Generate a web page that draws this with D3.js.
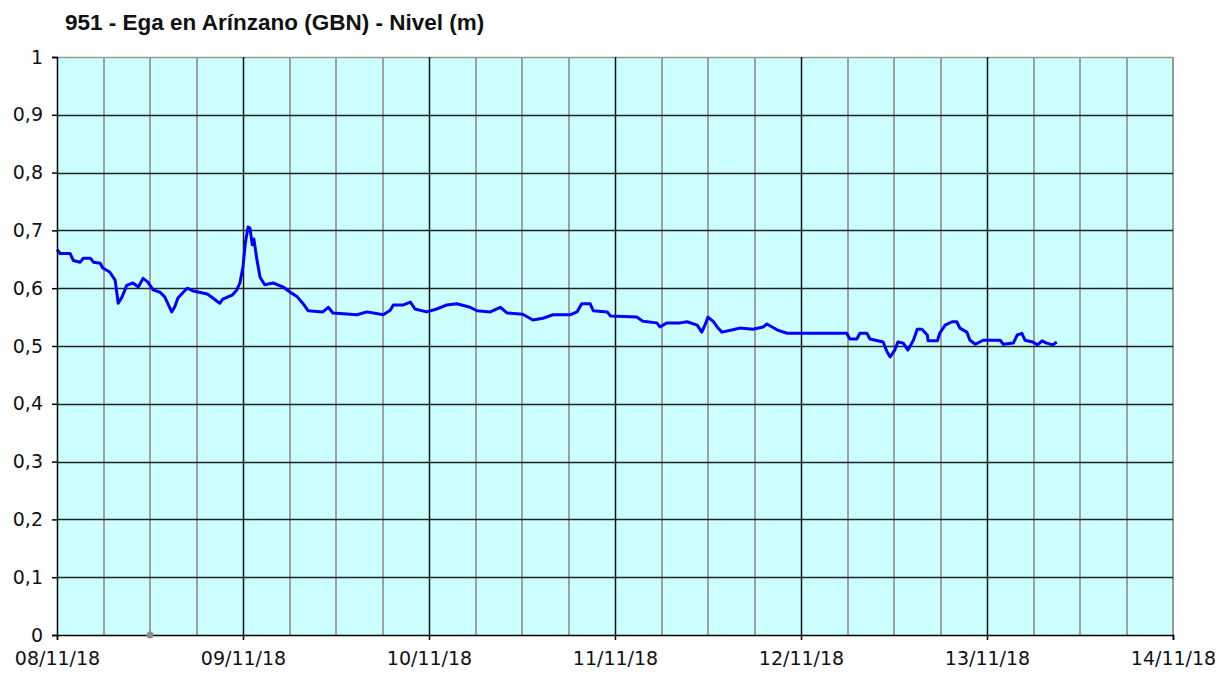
<!DOCTYPE html>
<html><head><meta charset="utf-8">
<script src="https://cdn.jsdelivr.net/npm/d3@7"></script>
<style>html,body{margin:0;padding:0;background:#fff;}svg{display:block;}</style>
</head><body>
<svg id="c" width="1232" height="675"></svg>
<script>
const title = "951 - Ega en Arínzano (GBN) - Nivel (m)";
const startDay = Date.UTC(2018, 10, 8);
const dayTickLabels = ["08/11/18","09/11/18","10/11/18","11/11/18","12/11/18","13/11/18","14/11/18"];
const yTicks = [0,0.1,0.2,0.3,0.4,0.5,0.6,0.7,0.8,0.9,1];
// hours since 08/11/18 00:00
const hours = [0,0.4,1.7,2.1,3.0,3.4,4.3,4.7,5.6,5.9,6.8,7.5,7.9,8.4,9.0,9.8,10.5,11.1,11.7,12.4,13.3,13.9,14.8,15.2,15.6,16.3,16.8,17.6,19.4,20.1,21.0,21.4,22.6,23.2,23.6,24.0,24.3,24.65,24.9,25.2,25.4,25.8,26.2,26.8,27.9,29.2,30.1,31.0,31.7,32.4,34.3,35.0,35.6,38.7,40.0,42.1,43.0,43.4,44.7,45.6,46.2,47.7,49.0,50.3,51.6,53.3,54.2,55.9,57.2,58.1,60.1,61.4,62.7,64.0,66.2,67.1,67.7,68.8,69.2,71.0,71.4,74.8,75.6,77.4,77.8,78.7,80.4,81.3,82.6,83.2,83.6,84.0,84.7,85.3,85.8,87.2,88.1,89.8,91.1,91.6,92.9,94.2,101.9,102.3,103.2,103.6,104.5,104.9,106.6,107.1,107.5,108.1,108.5,109.2,109.8,110.5,111.0,111.6,112.3,112.4,113.6,113.9,114.6,115.5,116.1,116.5,117.4,117.8,118.5,119.5,121.7,122.1,123.4,123.9,124.5,124.9,125.9,126.5,127.1,127.7,128.5,129.0];
const levels = [0.667,0.660,0.660,0.648,0.645,0.652,0.652,0.645,0.643,0.635,0.628,0.614,0.574,0.585,0.605,0.609,0.602,0.617,0.611,0.597,0.593,0.585,0.559,0.568,0.583,0.593,0.600,0.595,0.590,0.583,0.574,0.581,0.588,0.597,0.609,0.637,0.678,0.706,0.704,0.675,0.685,0.649,0.619,0.606,0.609,0.602,0.593,0.585,0.574,0.561,0.559,0.567,0.557,0.554,0.559,0.554,0.562,0.571,0.571,0.576,0.564,0.559,0.564,0.571,0.573,0.567,0.561,0.559,0.567,0.557,0.555,0.545,0.548,0.554,0.554,0.559,0.573,0.573,0.561,0.559,0.552,0.550,0.543,0.540,0.533,0.540,0.540,0.542,0.536,0.524,0.536,0.550,0.542,0.531,0.524,0.528,0.531,0.529,0.533,0.538,0.528,0.522,0.522,0.512,0.512,0.522,0.522,0.512,0.507,0.490,0.481,0.493,0.507,0.505,0.493,0.510,0.529,0.529,0.519,0.509,0.509,0.522,0.536,0.542,0.542,0.531,0.524,0.510,0.503,0.510,0.510,0.503,0.505,0.519,0.522,0.510,0.507,0.502,0.509,0.505,0.502,0.507];

const svg = d3.select("#c");
const L = 57, R = 1173, T = 57, B = 635;
const x = d3.scaleUtc().domain([new Date(startDay), new Date(startDay + 6*864e5)]).range([L, R]);
const y = d3.scaleLinear().domain([0, 1]).range([B, T]);

svg.append("rect").attr("x", L).attr("y", T).attr("width", R-L).attr("height", B-T).attr("fill", "#ccffff");

// vertical 6h grid
const sixH = d3.utcHour.every(6).range(x.domain()[0], new Date(+x.domain()[1] + 1));
svg.append("g").selectAll("line").data(sixH.filter(d => d.getUTCHours() !== 0)).join("line")
  .attr("x1", d => Math.round(x(d))).attr("x2", d => Math.round(x(d)))
  .attr("y1", T).attr("y2", B).attr("stroke", "#a0a0a0").attr("stroke-width", 2);
// top/right border
svg.append("line").attr("x1", L).attr("x2", R).attr("y1", T+0.5).attr("y2", T+0.5).attr("stroke", "#999").attr("stroke-width", 1.5);
svg.append("line").attr("x1", R).attr("x2", R).attr("y1", T).attr("y2", B).attr("stroke", "#999").attr("stroke-width", 2);
// day lines
const days = d3.utcDay.range(new Date(startDay + 1), new Date(startDay + 6*864e5 - 1));
svg.append("g").selectAll("line").data(days).join("line")
  .attr("x1", d => Math.round(x(d))+0.5).attr("x2", d => Math.round(x(d))+0.5)
  .attr("y1", T).attr("y2", B).attr("stroke", "#111").attr("stroke-width", 1.5);
// horizontal grid
svg.append("g").selectAll("line").data(yTicks.filter(v => v > 0 && v < 1)).join("line")
  .attr("x1", L).attr("x2", R).attr("y1", d => Math.round(y(d))+0.5).attr("y2", d => Math.round(y(d))+0.5)
  .attr("stroke", "#222").attr("stroke-width", 1.5);

// series
const data = hours.map((h, i) => ({t: new Date(startDay + h*3600e3), v: levels[i]}));
svg.append("path").datum(data)
  .attr("fill", "none").attr("stroke", "#0000ff").attr("stroke-width", 3).attr("stroke-linejoin", "round")
  .attr("d", d3.line().x(d => x(d.t)).y(d => y(d.v)));

// axes
const fmt = d => d3.format(".1~f")(d).replace(".", ",");
const yAxis = svg.append("g").attr("transform", `translate(${L},0)`)
  .call(d3.axisLeft(y).tickValues(yTicks).tickFormat(fmt).tickSize(5).tickPadding(9));
const xAxis = svg.append("g").attr("transform", `translate(0,${B})`)
  .call(d3.axisBottom(x).ticks(d3.utcDay.every(1)).tickFormat((d, i) => dayTickLabels[i]).tickSize(5).tickPadding(12));
[yAxis, xAxis].forEach(g => {
  g.selectAll("path.domain").attr("stroke", "#000").attr("stroke-width", 1.5);
  g.selectAll(".tick line").attr("stroke", "#000").attr("stroke-width", 1.5);
  g.selectAll("text").attr("fill", "#111").style("font-family", "'DejaVu Sans', Verdana, sans-serif").style("font-size", "19px");
});

// marker dot at 08/11 12:00
svg.append("circle").attr("cx", x(new Date(startDay + 12*3600e3))).attr("cy", B).attr("r", 3.5).attr("fill", "#8c8c8c");

svg.append("text").attr("x", 65).attr("y", 30).text(title)
  .attr("fill", "#111").style("font-family", "'Liberation Sans', Arial, sans-serif").style("font-weight", "bold").style("font-size", "22.5px");
</script>
</body></html>
